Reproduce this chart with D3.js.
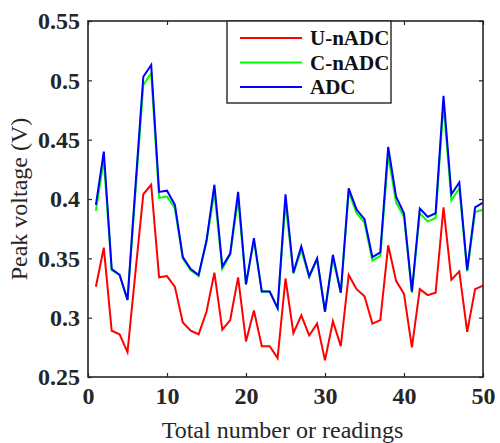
<!DOCTYPE html>
<html>
<head>
<meta charset="utf-8">
<script src="https://cdn.jsdelivr.net/npm/d3@7"></script>
<style>
  body { margin: 0; background: #fff; }
</style>
</head>
<body>
<div id="chart"></div>
<script>
// Peak voltage of 50 readings for three converters

const readings = d3.range(1, 51);
const uNadc = [0.326, 0.359, 0.289, 0.286, 0.271, 0.338, 0.404, 0.412, 0.334, 0.335,
  0.326, 0.296, 0.289, 0.286, 0.305, 0.338, 0.290, 0.298, 0.334, 0.280,
  0.306, 0.276, 0.276, 0.266, 0.333, 0.287, 0.302, 0.285, 0.295, 0.264,
  0.297, 0.276, 0.336, 0.324, 0.318, 0.295, 0.298, 0.361, 0.331, 0.320,
  0.275, 0.324, 0.319, 0.321, 0.393, 0.332, 0.339, 0.288, 0.324, 0.327];
const cNadc = [0.390, 0.433, 0.340, 0.336, 0.315, 0.405, 0.496, 0.506, 0.401, 0.402,
  0.392, 0.350, 0.340, 0.335, 0.364, 0.406, 0.341, 0.353, 0.400, 0.328,
  0.365, 0.322, 0.322, 0.308, 0.397, 0.337, 0.357, 0.334, 0.349, 0.305,
  0.350, 0.321, 0.406, 0.388, 0.380, 0.348, 0.352, 0.437, 0.397, 0.385,
  0.321, 0.388, 0.381, 0.384, 0.480, 0.399, 0.409, 0.339, 0.389, 0.391];
const adc = [0.395, 0.440, 0.341, 0.336, 0.315, 0.410, 0.503, 0.513, 0.406, 0.407,
  0.395, 0.351, 0.341, 0.336, 0.365, 0.412, 0.343, 0.354, 0.406, 0.328,
  0.367, 0.322, 0.322, 0.308, 0.404, 0.338, 0.360, 0.335, 0.350, 0.305,
  0.353, 0.321, 0.409, 0.391, 0.383, 0.351, 0.355, 0.444, 0.402, 0.388,
  0.322, 0.392, 0.385, 0.388, 0.487, 0.404, 0.414, 0.340, 0.393, 0.397];

const seriesNames = ["U-nADC", "C-nADC", "ADC"];
const seriesColors = ["#ff0000", "#00ff00", "#0000ff"];
const xTicks = [0, 10, 20, 30, 40, 50];
const yTicks = [0.25, 0.3, 0.35, 0.4, 0.45, 0.5, 0.55];

const w = 500, h = 443;
const p_l = 88, p_r = 17, p_t = 21, p_b = 66; // plot box, clockwise edges
const frame = "#262626";
const serif = "\"Liberation Serif\"";

const svg = d3.select("#chart").append("svg")
  .attr("width", w)
  .attr("height", h);

const xScale = d3.scaleLinear().domain([0, 50]).range([p_l, w - p_r]);
const yScale = d3.scaleLinear().domain([0.25, 0.55]).range([h - p_b, p_t]);

// Axes with inward ticks on all four sides
const tickLen = 4;
const axes = [
  [d3.axisBottom(xScale).tickValues(xTicks).tickSize(-tickLen).tickPadding(10), `translate(0 ${h - p_b})`, true],
  [d3.axisTop(xScale).tickValues(xTicks).tickSize(-tickLen), `translate(0 ${p_t})`, false],
  [d3.axisLeft(yScale).tickValues(yTicks).tickSize(-tickLen).tickPadding(8).tickFormat(d3.format("")), `translate(${p_l} 0)`, true],
  [d3.axisRight(yScale).tickValues(yTicks).tickSize(-tickLen), `translate(${w - p_r} 0)`, false]
];
axes.forEach(([ax, tr, labels]) => {
  const g = svg.append("g").attr("transform", tr).call(ax);
  g.attr("font-family", null);
  g.select(".domain").remove();
  g.selectAll(".tick line").attr("stroke", frame).attr("stroke-width", 1.2);
  if (labels) {
    g.selectAll(".tick text")
      .style("font-family", serif).style("font-weight", "bold")
      .attr("font-size", 24).attr("fill", frame);
  } else {
    g.selectAll(".tick text").remove();
  }
});

// Lines (red, green, blue on top)
const line = d3.line().x((d, i) => xScale(readings[i])).y(d => yScale(d));
[uNadc, cNadc, adc].forEach((vals, k) => {
  svg.append("path")
    .datum(vals)
    .attr("fill", "none")
    .attr("stroke", seriesColors[k])
    .attr("stroke-width", 2)
    .attr("d", line);
});

// Box
svg.append("rect")
  .attr("x", p_l).attr("y", p_t)
  .attr("width", w - p_r - p_l).attr("height", h - p_b - p_t)
  .attr("fill", "none").attr("stroke", frame).attr("stroke-width", 1.6);

// Legend
const lg = svg.append("g").attr("transform", "translate(227 21)");
lg.append("rect").attr("width", 164).attr("height", 82)
  .attr("fill", "#fff").attr("stroke", frame).attr("stroke-width", 1.4);
seriesNames.forEach((name, k) => {
  const yy = 17 + k * 24.5;
  lg.append("line").attr("x1", 13).attr("x2", 75).attr("y1", yy).attr("y2", yy)
    .attr("stroke", seriesColors[k]).attr("stroke-width", 2);
  lg.append("text").attr("x", 83).attr("y", yy).attr("dy", "0.35em")
    .style("font-family", serif).style("font-weight", "bold")
    .attr("font-size", 21).attr("fill", "#111").text(name);
});

// Axis titles
svg.append("text")
  .attr("x", (p_l + w - p_r) / 2 - 3).attr("y", 438)
  .attr("text-anchor", "middle").attr("font-size", 24)
  .style("font-family", serif).attr("fill", frame)
  .text("Total number or readings");

svg.append("text")
  .attr("transform", `translate(27 ${(p_t + h - p_b) / 2}) rotate(-90)`)
  .attr("text-anchor", "middle").attr("font-size", 24)
  .style("font-family", serif).attr("fill", frame)
  .text("Peak voltage (V)");
</script>
</body>
</html>
